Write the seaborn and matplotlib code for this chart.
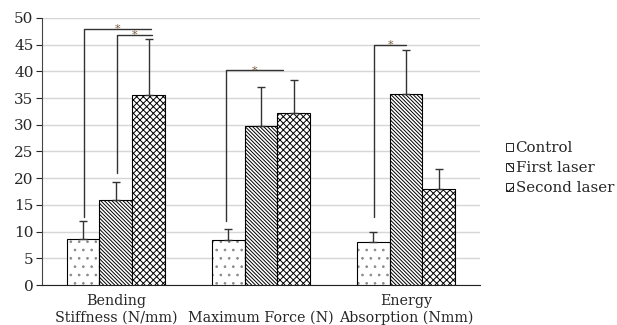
import pandas as pd
import numpy as np
import matplotlib
matplotlib.use('Agg')
import matplotlib.pyplot as plt
import seaborn as sns
from matplotlib.patches import Patch, Rectangle

# Values
categories = ['Bending\nStiffness (N/mm)', '\nMaximum Force (N)', 'Energy\nAbsorption (Nmm)']
groups = ['Control', 'First laser', 'Second laser']
control = [8.7, 8.5, 8.1]
first_laser = [15.9, 29.8, 35.8]
second_laser = [35.6, 32.2, 18.0]
control_err = [3.2, 1.9, 1.8]
first_err = [3.3, 7.2, 8.2]
second_err = [10.5, 6.2, 3.7]

# significance brackets: (x_start, y_start, x_end, y_top)
brackets = [(-0.22, 12.7, 0.24, 48.0),
            (0.01, 21.0, 0.25, 46.8),
            (0.76, 12.0, 1.15, 40.2),
            (1.78, 12.8, 2.0, 45.0)]

df = pd.DataFrame({
    'measure': categories * 3,
    'group': [g for g in groups for _ in categories],
    'value': control + first_laser + second_laser,
    'err': control_err + first_err + second_err,
})

sns.set_style('white')
plt.rcParams['font.family'] = ['DejaVu Serif']
plt.rcParams['hatch.linewidth'] = 0.7

fig = plt.figure(figsize=(6.17, 3.25), dpi=100)
ax = fig.add_axes([0.068, 0.123, 0.71, 0.822])

sns.barplot(data=df, x='measure', y='value', hue='group', order=categories,
            hue_order=groups, width=0.68, gap=0, errorbar=None, legend=False,
            edgecolor='black', linewidth=0.8, palette=['white'] * 3,
            ax=ax, zorder=3)

hatches = ['..', '\\' * 9, 'xxxxx']
bars = list(ax.patches)
for i, bar in enumerate(bars):
    bar.set_hatch(hatches[i // 3])
    bar.set_facecolor('white')
    if i // 3 == 0:
        # light grey dots, black outline drawn on top
        bar.set_edgecolor('#8a8a8a')
        bar.set_linewidth(0)
        ax.add_patch(Rectangle(bar.get_xy(), bar.get_width(), bar.get_height(),
                               fill=False, edgecolor='black', lw=0.8, zorder=3.5))
    else:
        bar.set_edgecolor('black')
    x = bar.get_x() + bar.get_width() / 2
    h = bar.get_height()
    ax.errorbar(x, h, yerr=[[0], [df['err'].iloc[i]]], fmt='none',
                ecolor='#333333', elinewidth=1, capsize=3, capthick=1, zorder=4)

for x0, y0, x1, y1 in brackets:
    ax.plot([x0, x0, x1], [y0, y1, y1], color='#333333', lw=1, zorder=5)
    ax.text((x0 + x1) / 2, y1 - 1.0, '*', ha='center', va='bottom',
            fontsize=8, color='#7a5a3a', zorder=5)

ax.set_ylim(0, 50)
ax.set_xlim(-0.51, 2.51)
ax.set_yticks(range(0, 51, 5))
ax.yaxis.grid(True, color='#d6d6d6', lw=1)
ax.set_axisbelow(True)
ax.set_xlabel('')
ax.set_ylabel('')
ax.tick_params(axis='y', left=True, length=4, labelsize=11, pad=2)
ax.tick_params(axis='x', bottom=False, labelsize=10.3, pad=3)
for s in ['top', 'right']:
    ax.spines[s].set_visible(False)
ax.spines['left'].set_color('#444444')
ax.spines['bottom'].set_color('#222222')

handles = [Patch(facecolor='white', edgecolor='black', hatch=h, linewidth=0.6)
           for h in ['', '\\\\\\', 'xx']]
fig.legend(handles, groups, loc='upper left', bbox_to_anchor=(0.81, 0.585),
           frameon=False, fontsize=10.8, handlelength=0.45, handleheight=0.45,
           handletextpad=0.2, labelspacing=0.4, borderaxespad=0)

fig.savefig('out.png', dpi=100)
